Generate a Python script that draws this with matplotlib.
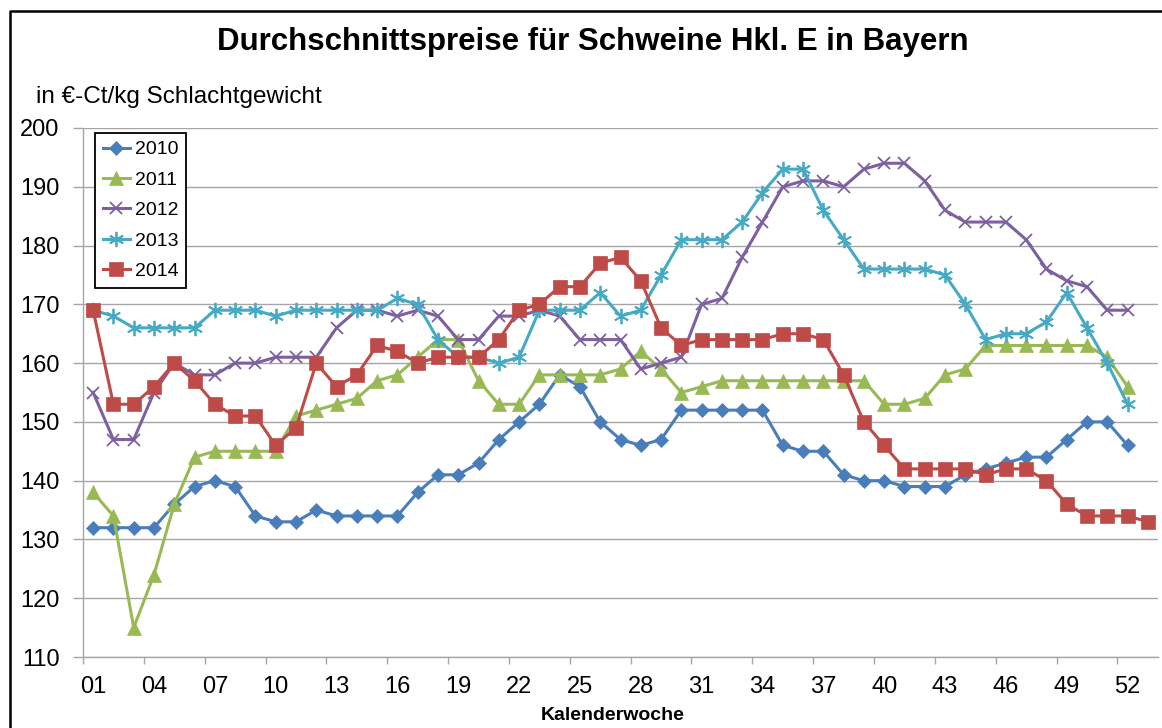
import matplotlib
matplotlib.use("Agg")
import matplotlib.pyplot as plt
from matplotlib.lines import Line2D
import numpy as np

plt.rcParams["font.family"] = ["Liberation Sans", "DejaVu Sans"]

# Durchschnittspreise je Kalenderwoche (€-Ct/kg Schlachtgewicht)
p2010 = [132, 132, 132, 132, 136, 139, 140, 139, 134, 133, 133, 135, 134,
         134, 134, 134, 138, 141, 141, 143, 147, 150, 153, 158, 156, 150,
         147, 146, 147, 152, 152, 152, 152, 152, 146, 145, 145, 141, 140,
         140, 139, 139, 139, 141, 142, 143, 144, 144, 147, 150, 150, 146]
p2011 = [138, 134, 115, 124, 136, 144, 145, 145, 145, 145, 151, 152, 153,
         154, 157, 158, 161, 164, 164, 157, 153, 153, 158, 158, 158, 158,
         159, 162, 159, 155, 156, 157, 157, 157, 157, 157, 157, 157, 157,
         153, 153, 154, 158, 159, 163, 163, 163, 163, 163, 163, 161, 156]
p2012 = [155, 147, 147, 155, 160, 158, 158, 160, 160, 161, 161, 161, 166,
         169, 169, 168, 169, 168, 164, 164, 168, 168, 169, 168, 164, 164,
         164, 159, 160, 161, 170, 171, 178, 184, 190, 191, 191, 190, 193,
         194, 194, 191, 186, 184, 184, 184, 181, 176, 174, 173, 169, 169]
p2013 = [169, 168, 166, 166, 166, 166, 169, 169, 169, 168, 169, 169, 169,
         169, 169, 171, 170, 164, 161, 161, 160, 161, 169, 169, 169, 172,
         168, 169, 175, 181, 181, 181, 184, 189, 193, 193, 186, 181, 176,
         176, 176, 176, 175, 170, 164, 165, 165, 167, 172, 166, 160, 153]
p2014 = [169, 153, 153, 156, 160, 157, 153, 151, 151, 146, 149, 160, 156,
         158, 163, 162, 160, 161, 161, 161, 164, 169, 170, 173, 173, 177,
         178, 174, 166, 163, 164, 164, 164, 164, 165, 165, 164, 158, 150,
         146, 142, 142, 142, 142, 141, 142, 142, 140, 136, 134, 134, 134, 133]

years = ["2010", "2011", "2012", "2013", "2014"]
series = [p2010, p2011, p2012, p2013, p2014]
week_labels = [f"{w:02d}" for w in range(1, 53, 3)]

colors = ["#4A7EBB", "#98B954", "#7D60A0", "#46AAC5", "#BE4B48"]
markers = ["D", "^", "x", (6, 2, 0), "s"]
msizes = [7.5, 10, 9, 11, 9.5]

fig = plt.figure(figsize=(11.62, 7.28), dpi=100)
ax = fig.add_axes([83 / 1162, 1 - 657 / 728, (1158 - 83) / 1162, (657 - 128) / 728])

for year, vals, c, m, ms in zip(years, series, colors, markers, msizes):
    weeks = np.arange(1, len(vals) + 1)
    ax.plot(weeks, vals, color=c, lw=2.2, marker=m, markersize=ms,
            markeredgewidth=1.3 if m in ("x", (6, 2, 0)) else 0.5,
            markeredgecolor=c, markerfacecolor=c, label=year, zorder=3)

ax.set_xlim(0.5, 53.5)
ax.set_ylim(110, 200)
ax.set_yticks(np.arange(110, 201, 10))
ax.grid(axis="y", color="#a6a6a6", lw=1.0)
ax.set_axisbelow(True)

ax.set_xticks(np.arange(1, 53, 3))
ax.set_xticklabels(week_labels)
ax.set_xticks(np.arange(0.5, 52, 3), minor=True)
ax.tick_params(axis="x", which="major", length=0, pad=14, labelsize=17)
ax.tick_params(axis="x", which="minor", length=5, color="#a6a6a6", width=1)
ax.tick_params(axis="y", length=7, color="#a6a6a6", width=1, pad=10, labelsize=17)

for side in ("top", "right"):
    ax.spines[side].set_visible(False)
for side in ("left", "bottom"):
    ax.spines[side].set_color("#a6a6a6")
    ax.spines[side].set_linewidth(1.0)

leg = ax.legend(loc="upper left", bbox_to_anchor=(12 / 1075, 1 - 5 / 529),
                fontsize=14, frameon=True, fancybox=False, framealpha=1,
                edgecolor="black", handlelength=1.4, labelspacing=0.66,
                borderpad=0.4, handletextpad=0.25, borderaxespad=0)
leg.get_frame().set_linewidth(1.3)

fig.text(593 / 1162, 1 - 42 / 728, "Durchschnittspreise für Schweine Hkl. E in Bayern",
         ha="center", va="center", fontsize=22.5, fontweight="bold")
fig.text(36 / 1162, 1 - 97 / 728, "in €-Ct/kg Schlachtgewicht",
         ha="left", va="center", fontsize=17.5)
fig.text(613 / 1162, 1 - 716 / 728, "Kalenderwoche",
         ha="center", va="center", fontsize=14, fontweight="bold")

# outer chart frame (only left and top edges visible in the crop)
x0, y1 = 10 / 1162, 1 - 11 / 728
fig.add_artist(Line2D([x0, x0, 1.05], [-0.05, y1, y1], transform=fig.transFigure,
                      color="black", lw=1.8, clip_on=False))

fig.savefig("out.png", dpi=100)
